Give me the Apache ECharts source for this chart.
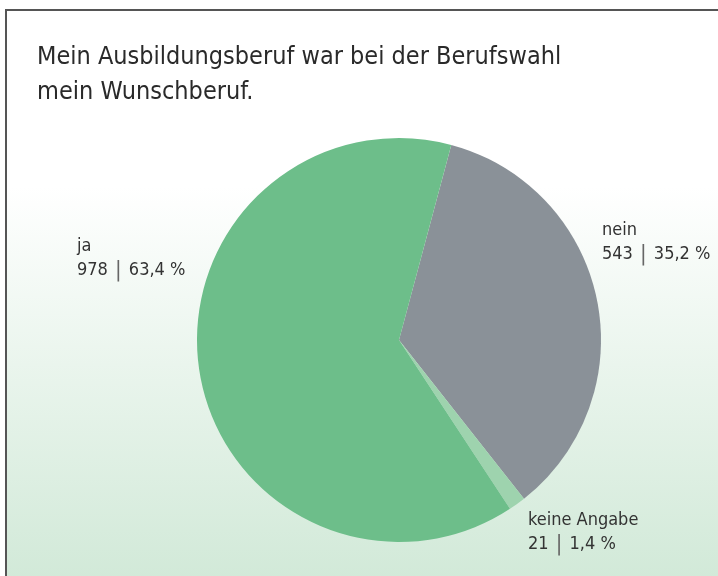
<!DOCTYPE html>
<html>
<head>
<meta charset="utf-8">
<script src="https://cdn.jsdelivr.net/npm/echarts@6/dist/echarts.min.js"></script>
<style>
  html, body { margin: 0; padding: 0; background: #fff; }
  #chart { width: 718px; height: 576px; }
</style>
</head>
<body>
<div id="chart"></div>
<script>
const categories = ['nein', 'keine Angabe', 'ja']
const counts = [543, 21, 978]
const percents = ['35,2', '1,4', '63,4']
const colors = ['#8a9198', '#9ed3ae', '#6dbe8a']

// label anchor points (top-left of each label block)
const labelPos = [
  { x: 602, y: 218 },
  { x: 528, y: 508 },
  { x: 77, y: 234 }
]

const font = '"Liberation Sans Narrow", "DejaVu Sans Condensed", "Open Sans", sans-serif'

const chart = echarts.init(document.getElementById('chart'))

chart.setOption({
  backgroundColor: '#fff',
  graphic: [
    {
      type: 'rect',
      z: -10,
      silent: true,
      shape: { x: 6, y: 10, width: 730, height: 590 },
      style: {
        stroke: '#555',
        lineWidth: 2,
        fill: {
          type: 'linear',
          x: 0, y: 0, x2: 0, y2: 1,
          colorStops: [
            { offset: 0, color: '#ffffff' },
            { offset: 0.3, color: '#ffffff' },
            { offset: 0.6, color: '#eaf5ed' },
            { offset: 1, color: '#cfe8d6' }
          ]
        }
      }
    },
    {
      type: 'text',
      left: 37,
      top: 40,
      style: {
        text: 'Mein Ausbildungsberuf war bei der Berufswahl\nmein Wunschberuf.',
        font: '25px ' + font,
        fill: '#2a2a2a',
        lineHeight: 35
      }
    }
  ],
  series: [
    {
      type: 'pie',
      center: [399, 340],
      radius: 202,
      startAngle: 75,
      clockwise: true,
      animation: false,
      data: categories.map((name, i) => ({
        name,
        value: counts[i],
        itemStyle: { color: colors[i] }
      })),
      label: {
        show: true,
        position: 'outside',
        overflow: 'none',
        fontFamily: font,
        fontSize: 18,
        color: '#333',
        lineHeight: 24,
        formatter: p => p.name + '\n' + counts[p.dataIndex] + ' {sep||} ' + percents[p.dataIndex] + ' %',
        rich: {
          sep: { color: '#666', fontSize: 22, fontFamily: font, padding: [0, 2, 0, 2] }
        }
      },
      labelLine: { show: false },
      labelLayout: p => ({
        x: labelPos[p.dataIndex].x,
        y: labelPos[p.dataIndex].y,
        width: 200,
        align: 'left',
        verticalAlign: 'top'
      })
    }
  ]
})
</script>
</body>
</html>
